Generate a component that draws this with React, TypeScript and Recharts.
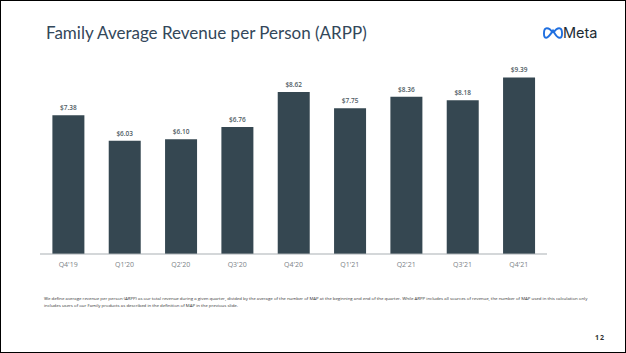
import { BarChart, Bar, XAxis, YAxis, LabelList } from "recharts";

const quarters = ["Q4'19", "Q1'20", "Q2'20", "Q3'20", "Q4'20", "Q1'21", "Q2'21", "Q3'21", "Q4'21"];
const arpp = [7.38, 6.03, 6.1, 6.76, 8.62, 7.75, 8.36, 8.18, 9.39];

const footnoteLines = [
  "We define average revenue per person (ARPP) as our total revenue during a given quarter, divided by the average of the number of MAP at the beginning and end of the quarter. While ARPP includes all sources of revenue, the number of MAP used in this calculation only",
  "includes users of our Family products as described in the definition of MAP in the previous slide.",
];

const data = quarters.map((quarter, i) => ({ quarter, arpp: arpp[i] }));

const FONT = "'Open Sans', sans-serif";

export default function App() {
  return (
    <div
      style={{
        position: "fixed",
        left: 0,
        top: 0,
        width: 626,
        height: 353,
        boxSizing: "border-box",
        border: "1px solid #000",
        background: "#fff",
        overflow: "hidden",
        fontFamily: FONT,
      }}
    >
      <div style={{ position: "absolute", left: 0, top: 0 }}>
        <BarChart
          width={624}
          height={351}
          data={data}
          margin={{ top: 65, right: 78, bottom: 0, left: 39 }}
          barCategoryGap="22%"
        >
          <XAxis
            dataKey="quarter"
            interval={0}
            height={98}
            tickLine={false}
            axisLine={{ stroke: "#a9afb3", strokeWidth: 1 }}
            tick={{ fontSize: 7, fill: "#7c8388", fontFamily: FONT }}
            tickMargin={2}
          />
          <YAxis hide domain={[0, 10]} />
          <Bar dataKey="arpp" fill="#354751" isAnimationActive={false}>
            <LabelList
              dataKey="arpp"
              position="top"
              offset={5}
              formatter={(v: number) => "$" + v.toFixed(2)}
              style={{ fontSize: 6.5, fontWeight: 600, fill: "#4f5c64", fontFamily: FONT }}
            />
          </Bar>
        </BarChart>
      </div>

      <div style={{ position: "absolute", left: 45, top: 20, fontSize: 17, lineHeight: "24px", color: "#33475a", whiteSpace: "nowrap", fontFamily: "Lato, sans-serif" }}>
        Family Average Revenue per Person (ARPP)
      </div>

      <svg width={20} height={12} viewBox="0 0 42 24" style={{ position: "absolute", left: 542, top: 26 }}>
        <path
          d="M21 12 C16 4 12 2 8 2 C4 2 2 7 2 13 C2 19 4 22 7 22 C11 22 15 16 21 7 C26 15 29 22 35 22 C38 22 40 19 40 13 C40 7 38 2 34 2 C30 2 26 5 21 12"
          fill="none"
          stroke="#1f6fe0"
          strokeWidth={4}
        />
      </svg>
      <div style={{ position: "absolute", left: 562, top: 21, fontSize: 14.5, lineHeight: "21px", color: "#1c2b33", fontFamily: "Inter, sans-serif" }}>
        Meta
      </div>

      <div style={{ position: "absolute", left: 43, top: 294, width: 560, fontSize: 4.35, lineHeight: "7px", color: "#333", whiteSpace: "nowrap" }}>
        {footnoteLines.map((line) => (
          <div key={line}>{line}</div>
        ))}
      </div>

      <div style={{ position: "absolute", left: 594, top: 332, fontSize: 7, fontWeight: 700, letterSpacing: 1, lineHeight: "10px", color: "#333" }}>
        12
      </div>
    </div>
  );
}
